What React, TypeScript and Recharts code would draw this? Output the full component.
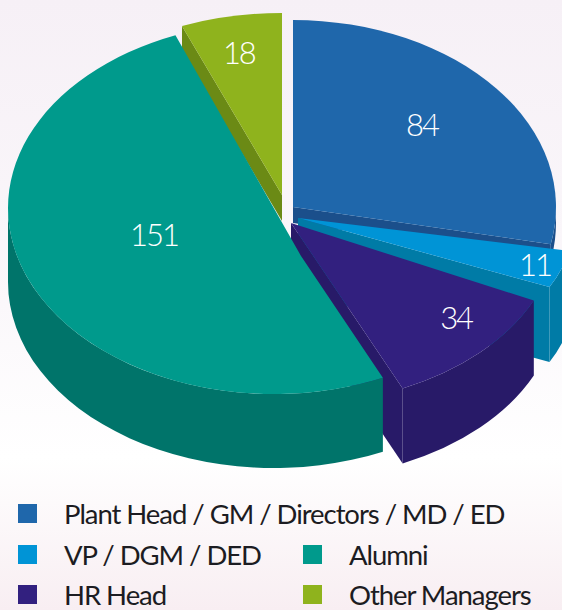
import React from 'react';
import { Legend, Pie, PieChart } from 'recharts';

// slice order is back to front, so the painter's order of the 3D walls works out
const sliceNames = ['Other Managers', 'Plant Head / GM / Directors / MD / ED', 'VP / DGM / DED', 'HR Head', 'Alumni'];
const sliceValues = [18, 84, 11, 34, 151];
const topColors = ['#8fb31d', '#1f67ab', '#0094d6', '#32207f', '#009a8c'];
const wallColors = ['#6b8a15', '#1b4f8b', '#007ba6', '#281a68', '#00746a'];

const legendRows = [
  ['Plant Head / GM / Directors / MD / ED'],
  ['VP / DGM / DED', 'Alumni'],
  ['HR Head', 'Other Managers'],
];

const TOTAL = sliceValues.reduce((a, b) => a + b, 0);
const START = 90 + (sliceValues[0] / TOTAL) * 360;

// fake perspective for each slice: shift, ellipse size, hub shift, extrusion, label spot
const look: Record<string, any> = {
  'Other Managers': { dx: -1, dy: -15, rx: 270, ry: 182, hx: 0, hy: 0, depth: 26, fx: 0.847, fy: 0.8 },
  'Plant Head / GM / Directors / MD / ED': { dx: 10, dy: -3, rx: 263, ry: 187, hx: 0, hy: 0, depth: 16, fx: 0.634, fy: 0.7 },
  'VP / DGM / DED': { dx: 15, dy: 8, rx: 277, ry: 165, hx: 0, hy: 0, depth: 75, fx: 0.9, fy: 0.9 },
  'HR Head': { dx: 12, dy: 16, rx: 263, ry: 178, hx: -4, hy: -3, depth: 75, fx: 0.871, fy: 0.72 },
  Alumni: { dx: -9, dy: -2, rx: 266, ry: 186, hx: 27, hy: 48, depth: 74, fx: 0.49, fy: 0.36 },
};

const rad = (d: number) => (d * Math.PI) / 180;

const SliceShape = (props: any) => {
  const { cx, cy, startAngle, endAngle, name, fill } = props;
  const l = look[name];
  const wall = wallColors[sliceNames.indexOf(name)];
  const ox = cx + l.dx;
  const oy = cy + l.dy;
  const hubX = ox + l.hx;
  const hubY = oy + l.hy;
  // clockwise from north
  const t1 = 90 - startAngle;
  const t2 = 90 - endAngle;
  const pt = (t: number, drop = 0): [number, number] => [
    ox + l.rx * Math.sin(rad(t)),
    oy - l.ry * Math.cos(rad(t)) + drop,
  ];
  const arcTo = (t: number, big: boolean, sweep: number, drop = 0) => {
    const [x, y] = pt(t, drop);
    return `A ${l.rx} ${l.ry} 0 ${big ? 1 : 0} ${sweep} ${x} ${y}`;
  };
  const [x1, y1] = pt(t1);
  const top = `M ${hubX} ${hubY} L ${x1} ${y1} ${arcTo(t2, t2 - t1 > 180, 1)} Z`;

  const walls: React.ReactNode[] = [];
  const radial = (t: number, key: string) => {
    const [x, y] = pt(t);
    walls.push(
      <path
        key={key}
        d={`M ${hubX} ${hubY} L ${x} ${y} L ${x} ${y + l.depth} L ${hubX} ${hubY + l.depth} Z`}
        fill={wall}
      />,
    );
  };
  if (Math.sin(rad(t1)) < -0.001) radial(t1, 'start');
  if (Math.sin(rad(t2)) > 0.001) radial(t2, 'end');

  // the rim only shows where the arc faces down, between 90 and 270 deg
  const norm = (t: number) => ((t % 360) + 360) % 360;
  const a = Math.max(norm(t1), 90);
  const b = Math.min(norm(t1) + (t2 - t1), 270);
  if (b > a) {
    const [ax, ay] = pt(a);
    const [bx, by] = pt(b, l.depth);
    walls.push(
      <path
        key="rim"
        d={`M ${ax} ${ay} ${arcTo(b, false, 1)} L ${bx} ${by} ${arcTo(a, false, 0, l.depth)} Z`}
        fill={wall}
      />,
    );
  }

  return (
    <g>
      {walls}
      <path d={top} fill={fill} />
    </g>
  );
};

const renderValue = (props: any) => {
  const { cx, cy, midAngle, name, value } = props;
  const l = look[name];
  const t = rad(90 - midAngle);
  return (
    <text
      x={cx + l.dx + l.fx * l.rx * Math.sin(t)}
      y={cy + l.dy - l.fy * l.ry * Math.cos(t)}
      fill="#ffffff"
      textAnchor="middle"
      dominantBaseline="central"
      fontFamily="Lato, sans-serif"
      fontWeight={300}
      fontSize={31}
      letterSpacing={-2}
    >
      {value}
    </text>
  );
};

const Swatch = ({ name, x, y }: { name: string; x: number; y: number }) => (
  <>
    <div
      style={{
        position: 'absolute',
        left: x,
        top: y - 10,
        width: 19,
        height: 19,
        background: topColors[sliceNames.indexOf(name)],
      }}
    />
    <div
      style={{
        position: 'absolute',
        left: x + 46,
        top: y - 13,
        lineHeight: '26px',
        whiteSpace: 'nowrap',
        fontFamily: 'Lato, sans-serif',
        fontSize: 27.5,
        letterSpacing: -1.05,
        color: '#1c1c22',
      }}
    >
      {name}
    </div>
  </>
);

const LegendBlock = () => (
  <div style={{ position: 'relative', width: 562, height: 110 }}>
    {legendRows.map((row, r) =>
      row.map((name, c) => <Swatch key={name} name={name} x={c === 0 ? 18 : 303} y={15 + r * 40.5} />),
    )}
  </div>
);

const chartData = sliceNames.map((name, i) => ({ name, value: sliceValues[i], fill: topColors[i] }));

export default function App() {
  return (
    <div
      style={{
        position: 'fixed',
        left: 0,
        top: 0,
        width: 562,
        height: 610,
        overflow: 'hidden',
        background: 'linear-gradient(180deg, #f6f0f6 0%, #fbf8fb 50%, #ffffff 75%, #f8eef2 100%)',
      }}
    >
      <PieChart width={562} height={610} margin={{ top: 0, right: 0, bottom: 0, left: 0 }}>
        <Pie
          data={chartData}
          dataKey="value"
          nameKey="name"
          cx={283}
          cy={210}
          outerRadius={270}
          startAngle={START}
          endAngle={START - 360}
          stroke="none"
          shape={SliceShape}
          label={renderValue}
          labelLine={false}
          isAnimationActive={false}
        />
        <Legend
          content={LegendBlock}
          wrapperStyle={{ position: 'absolute', left: 0, top: 499, width: 562, height: 111 }}
        />
      </PieChart>
    </div>
  );
}
